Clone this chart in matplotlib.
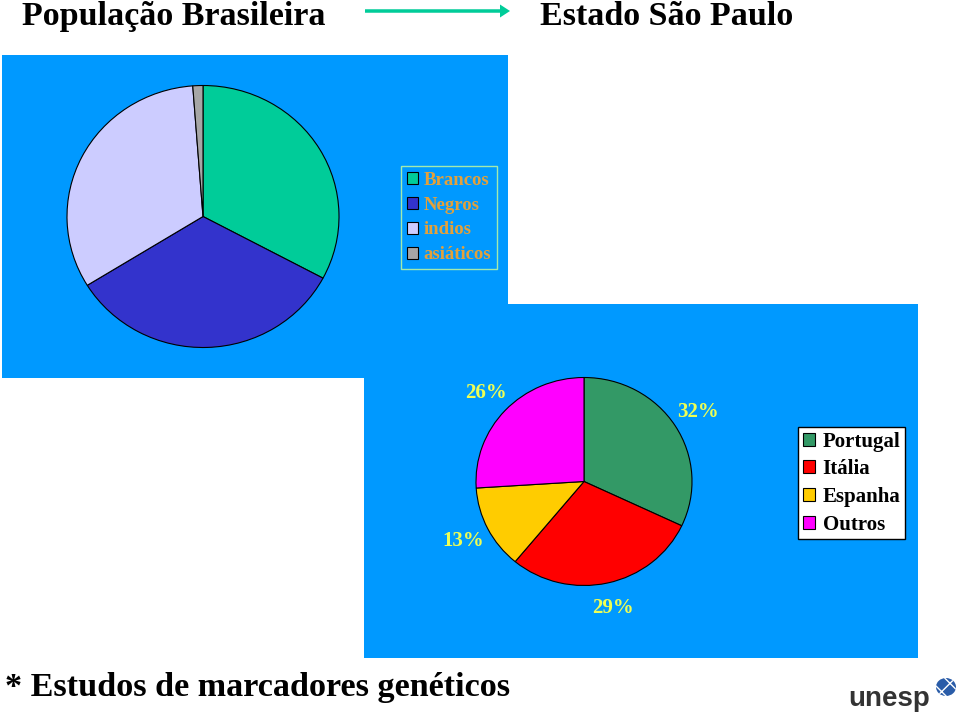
import matplotlib
matplotlib.use('Agg')
import matplotlib.pyplot as plt
from matplotlib.patches import Rectangle, FancyArrow, Ellipse

W, H = 960, 714

# ---------------- data ----------------
pop_labels = ['Brancos', 'Negros', 'indios', 'asiáticos']
pop_values = [32.8, 33.4, 32.6, 1.2]
pop_colors = ['#00CC99', '#3333CC', '#CCCCFF', '#A6A6A6']

sp_labels = ['Portugal', 'Itália', 'Espanha', 'Outros']
sp_values = [32, 29, 13, 26]
sp_colors = ['#339966', '#FF0000', '#FFCC00', '#FF00FF']

title_left = 'População Brasileira'
title_right = 'Estado São Paulo'
footnote = '* Estudos de marcadores genéticos'
logo_text = 'unesp'

SERIF = 'Liberation Serif'
BLUE = '#0099FF'

fig = plt.figure(figsize=(9.6, 7.14), dpi=100)
fig.patch.set_facecolor('white')


def fx(x):
    return x / W


def fy(y):
    return 1 - y / H


def box(x0, y0, x1, y1):
    return [fx(x0), fy(y1), (x1 - x0) / W, (y1 - y0) / H]


# blue panels
for (x0, y0, x1, y1) in [(2, 55, 508, 378), (364, 304, 918, 658)]:
    fig.add_artist(Rectangle((fx(x0), fy(y1)), (x1 - x0) / W, (y1 - y0) / H,
                             transform=fig.transFigure, facecolor=BLUE,
                             edgecolor='none', zorder=0))

# ---------------- top pie ----------------
ax1 = fig.add_axes(box(67, 85.5, 339, 347.5))
w1, _ = ax1.pie(pop_values, colors=pop_colors, startangle=90, counterclock=False,
                wedgeprops=dict(edgecolor='black', linewidth=0.8))
ax1.set_aspect('auto')
ax1.set_xlim(-1, 1)
ax1.set_ylim(-1, 1)

leg1 = ax1.legend(w1, pop_labels, loc='upper left',
                  bbox_to_anchor=(fx(401), fy(166)), bbox_transform=fig.transFigure,
                  borderaxespad=0, frameon=True, fancybox=False,
                  facecolor='none', edgecolor='#CCFF99',
                  prop=dict(family=SERIF, weight='bold', size=13.5),
                  labelcolor='#E3A13B', handlelength=0.6, handleheight=0.6,
                  handletextpad=0.3, labelspacing=0.42, borderpad=0.3)
leg1.get_frame().set_linewidth(1.0)

# ---------------- bottom pie ----------------
ax2 = fig.add_axes(box(476, 377.5, 692, 585.5))
w2, _, pct = ax2.pie(sp_values, colors=sp_colors, startangle=90, counterclock=False,
                     autopct='%1.0f%%', pctdistance=1.25,
                     wedgeprops=dict(edgecolor='black', linewidth=0.8),
                     textprops=dict(family=SERIF, weight='bold', size=15,
                                    color='#EEFF55'))
ax2.set_aspect('auto')
ax2.set_xlim(-1, 1)
ax2.set_ylim(-1, 1)

leg2 = ax2.legend(w2, sp_labels, loc='upper left',
                  bbox_to_anchor=(fx(798), fy(427)), bbox_transform=fig.transFigure,
                  borderaxespad=0, frameon=True, fancybox=False,
                  facecolor='white', edgecolor='black', framealpha=1,
                  prop=dict(family=SERIF, weight='bold', size=15),
                  labelcolor='black', handlelength=0.58, handleheight=0.58,
                  handletextpad=0.38, labelspacing=0.37, borderpad=0.22)
leg2.get_frame().set_linewidth(1.0)

# ---------------- titles ----------------
fig.text(fx(22), fy(25), title_left, family=SERIF, weight='bold', size=24.5,
         va='baseline', ha='left')
fig.text(fx(540), fy(25), title_right, family=SERIF, weight='bold', size=24.5,
         va='baseline', ha='left')
fig.add_artist(FancyArrow(fx(365), fy(11), (510 - 365) / W, 0,
                          width=3.5 / H, head_width=13 / H, head_length=10 / W,
                          length_includes_head=True, transform=fig.transFigure,
                          color='#00CC99', linewidth=0))

fig.text(fx(5), fy(696), footnote, family=SERIF, weight='bold', size=24.6,
         va='baseline', ha='left')

# logo
fig.text(fx(848), fy(706), logo_text, family='Liberation Sans', weight='bold',
         size=20, color='#333333', va='baseline', ha='left')
fig.add_artist(Ellipse((fx(946), fy(687)), 20 / W, 18 / H, transform=fig.transFigure,
                       facecolor='#2A5CA8', edgecolor='white', hatch='xx',
                       linewidth=0))

fig.savefig('out.png', dpi=100, facecolor='white')
